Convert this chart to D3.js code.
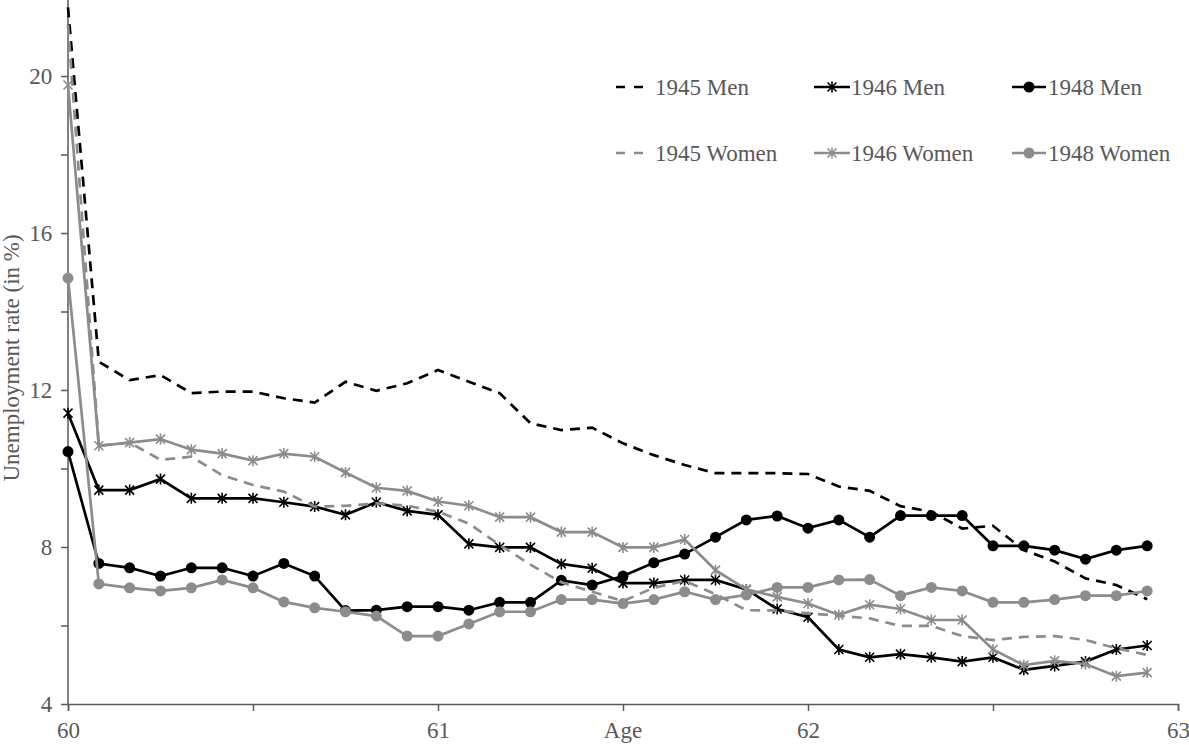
<!DOCTYPE html>
<html>
<head>
<meta charset="utf-8">
<script src="https://cdn.jsdelivr.net/npm/d3@7"></script>
<style>
  body { margin: 0; background: #fff; }
  svg { display: block; font-family: "Liberation Serif", "Times New Roman", serif; }
</style>
</head>
<body>
<div id="chart"></div>
<script>
// months after the 60th birthday
const months = [0,1,2,3,4,5,6,7,8,9,10,11,12,13,14,15,16,17,18,19,20,21,22,23,24,25,26,27,28,29,30,31,32,33,34,35];

const men1945 = [21.75,12.72,12.25,12.38,11.92,11.96,11.96,11.79,11.68,12.21,11.98,12.17,12.51,12.21,11.92,11.15,10.98,11.04,10.64,10.34,10.09,9.88,9.88,9.88,9.86,9.54,9.43,9.04,8.9,8.47,8.54,7.92,7.63,7.2,7.03,6.67];
const men1946 = [11.41,9.45,9.45,9.73,9.24,9.24,9.24,9.14,9.03,8.82,9.14,8.92,8.82,8.08,7.99,7.99,7.57,7.46,7.08,7.08,7.16,7.16,6.92,6.42,6.21,5.39,5.19,5.27,5.19,5.08,5.19,4.87,4.97,5.08,5.39,5.49];
const men1948 = [10.43,7.58,7.47,7.26,7.47,7.47,7.26,7.58,7.26,6.38,6.39,6.48,6.48,6.39,6.59,6.59,7.15,7.03,7.26,7.6,7.82,8.25,8.69,8.79,8.48,8.69,8.25,8.8,8.8,8.8,8.03,8.03,7.92,7.69,7.92,8.03];
const women1945 = [21.3,10.58,10.66,10.22,10.3,9.83,9.58,9.41,9.03,9.05,9.11,9.05,8.9,8.6,8.05,7.55,7.1,6.86,6.62,6.96,7.14,6.8,6.39,6.38,6.31,6.25,6.18,5.99,5.99,5.73,5.63,5.71,5.73,5.63,5.42,5.25];
const women1946 = [19.77,10.58,10.66,10.75,10.48,10.38,10.2,10.38,10.3,9.9,9.51,9.43,9.16,9.05,8.76,8.76,8.38,8.38,7.99,7.99,8.19,7.41,6.92,6.73,6.56,6.27,6.53,6.42,6.14,6.14,5.39,4.99,5.1,5.02,4.71,4.8];
const women1948 = [14.85,7.06,6.96,6.88,6.96,7.16,6.96,6.6,6.45,6.35,6.24,5.73,5.73,6.04,6.35,6.35,6.66,6.66,6.56,6.66,6.86,6.66,6.78,6.97,6.97,7.16,7.17,6.76,6.97,6.88,6.59,6.59,6.66,6.76,6.76,6.88];

const xTicks = [60, 60.5, 61, 61.5, 62, 62.5, 63];
const xLabels = [60, 61, 62, 63];
const yTicks = [4, 6, 8, 10, 12, 14, 16, 18, 20];
const yLabels = [4, 8, 12, 16, 20];

const BLACK = "#000", GREY = "#8c8c8c", AXIS = "#595959";
const FONT = 23;

const series = [
  { name: "1945 Men",   values: men1945,   color: BLACK, dash: "10,7", marker: null },
  { name: "1946 Men",   values: men1946,   color: BLACK, dash: null,   marker: "star" },
  { name: "1948 Men",   values: men1948,   color: BLACK, dash: null,   marker: "circle" },
  { name: "1945 Women", values: women1945, color: GREY,  dash: "10,7", marker: null },
  { name: "1946 Women", values: women1946, color: GREY,  dash: null,   marker: "star" },
  { name: "1948 Women", values: women1948, color: GREY,  dash: null,   marker: "circle" }
];

const svg = d3.select("#chart").append("svg")
  .attr("width", 1189)
  .attr("height", 745);

const x = d3.scaleLinear().domain([60, 63]).range([68, 1178]);
const y = d3.scaleLinear().domain([4, 22]).range([704, -2.5]);

// axes
const xAxis = svg.append("g").attr("transform", "translate(0,704)")
  .call(d3.axisBottom(x).tickValues(xTicks).tickSize(7)
    .tickFormat(d => xLabels.includes(d) ? d : ""));
const yAxis = svg.append("g").attr("transform", "translate(68,0)")
  .call(d3.axisLeft(y).tickValues(yTicks).tickSize(7).tickSizeOuter(0)
    .tickFormat(d => yLabels.includes(d) ? d : ""));

[xAxis, yAxis].forEach(a => {
  a.select(".domain").attr("stroke", AXIS).attr("stroke-width", 1.5);
  a.selectAll(".tick line").attr("stroke", AXIS).attr("stroke-width", 1.5);
  a.selectAll("text").attr("fill", AXIS).attr("font-size", FONT)
    .attr("font-family", "Liberation Serif, serif");
});
xAxis.selectAll(".tick text").attr("y", 18).attr("dy", "0.71em");
yAxis.selectAll(".tick text").attr("dx", "-0.25em");
yAxis.select(".domain").attr("d", "M0,0V704");

svg.append("text")
  .attr("x", x(61.5)).attr("y", 738)
  .attr("text-anchor", "middle")
  .attr("font-size", FONT).attr("fill", AXIS)
  .text("Age");

svg.append("text")
  .attr("transform", "translate(19,358) rotate(-90)")
  .attr("text-anchor", "middle")
  .attr("font-size", FONT).attr("fill", AXIS)
  .text("Unemployment rate (in %)");

const starPath = "M-4.5,-4.5L4.5,4.5M-4.5,4.5L4.5,-4.5M0,-5.5V5.5";

const line = d3.line()
  .x((d, i) => x(60 + months[i] / 12))
  .y(d => y(d));

function drawMarker(g, s, cx, cy) {
  if (s.marker === "circle") {
    g.append("circle").attr("cx", cx).attr("cy", cy).attr("r", 5.5).attr("fill", s.color);
  } else if (s.marker === "star") {
    g.append("path").attr("d", starPath).attr("transform", `translate(${cx},${cy})`)
      .attr("fill", "none").attr("stroke", s.color).attr("stroke-width", 1.6);
  }
}

series.forEach(s => {
  const g = svg.append("g");
  g.append("path")
    .attr("d", line(s.values))
    .attr("fill", "none")
    .attr("stroke", s.color)
    .attr("stroke-width", 2.7)
    .attr("stroke-dasharray", s.dash);
  if (s.marker) {
    s.values.forEach((v, i) => drawMarker(g, s, x(60 + months[i] / 12), y(v)));
  }
});

// legend
const legendCols = [
  { x0: 616, x1: 643, tx: 655 },
  { x0: 814, x1: 850, tx: 851 },
  { x0: 1012, x1: 1046, tx: 1048 }
];
const legendRows = [87, 153];

series.forEach((s, i) => {
  const col = legendCols[i % 3], cy = legendRows[Math.floor(i / 3)];
  const g = svg.append("g");
  if (s.dash) {
    g.append("line").attr("x1", col.x0).attr("x2", col.x1).attr("y1", cy).attr("y2", cy)
      .attr("stroke", s.color).attr("stroke-width", 2.7).attr("stroke-dasharray", "9,9");
  } else {
    g.append("line").attr("x1", col.x0).attr("x2", col.x1).attr("y1", cy).attr("y2", cy)
      .attr("stroke", s.color).attr("stroke-width", 2.7);
    drawMarker(g, s, (col.x0 + col.x1) / 2, cy);
  }
  g.append("text").attr("x", col.tx).attr("y", cy).attr("dy", "0.35em")
    .attr("font-size", FONT).attr("fill", AXIS).text(s.name);
});
</script>
</body>
</html>
